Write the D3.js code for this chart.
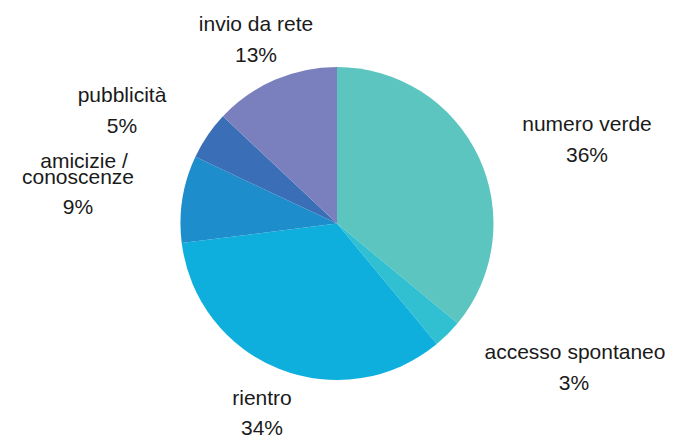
<!DOCTYPE html>
<html>
<head>
<meta charset="utf-8">
<script src="https://cdn.jsdelivr.net/npm/d3@7/dist/d3.min.js"></script>
<style>
  html, body { margin: 0; padding: 0; background: #ffffff; }
  svg { display: block; }
  text { font-family: "Liberation Sans", Arial, sans-serif; font-size: 21px; fill: #1a1a1a; }
</style>
</head>
<body>
<svg id="chart" width="678" height="438"></svg>
<script>
// Canali di accesso al servizio (percentuali)
const categories = ["numero verde", "accesso spontaneo", "rientro", "amicizie / conoscenze", "pubblicità", "invio da rete"];
const values = [36, 3, 34, 9, 5, 13];
const valueLabels = ["36%", "3%", "34%", "9%", "5%", "13%"];
const labelLines = [["numero verde"], ["accesso spontaneo"], ["rientro"], ["amicizie /", "conoscenze"], ["pubblicità"], ["invio da rete"]];

const colors = ["#5cc5bf", "#31bfd2", "#0eafdd", "#1e8dcb", "#3a6fb8", "#7a80be"];

// Layout
const W = 678, H = 438;
const cx = 337, cy = 223.5, radius = 156.5;
// label block placement: x centre per line and baselines
const labelLayout = [
  { x: [587], y: [131], vy: 162, vx: 587 },
  { x: [575], y: [359], vy: 390, vx: 574 },
  { x: [262], y: [405], vy: 435, vx: 262 },
  { x: [84, 78], y: [168, 184], vy: 214, vx: 78 },
  { x: [122], y: [102], vy: 133, vx: 122 },
  { x: [256], y: [31], vy: 62, vx: 256 }
];

const svg = d3.select("#chart");

const data = categories.map((c, i) => ({ name: c, value: values[i], i }));

const pie = d3.pie().value(d => d.value).sort(null);
const arc = d3.arc().innerRadius(0).outerRadius(radius);
const color = d3.scaleOrdinal().domain(categories).range(colors);

const g = svg.append("g").attr("transform", `translate(${cx},${cy})`);

g.selectAll("path")
  .data(pie(data))
  .join("path")
  .attr("d", arc)
  .attr("fill", d => color(d.data.name));

// Labels
const lg = svg.append("g");
data.forEach((d, i) => {
  const L = labelLayout[i];
  labelLines[i].forEach((line, j) => {
    lg.append("text")
      .attr("x", L.x[j])
      .attr("y", L.y[j])
      .attr("text-anchor", "middle")
      .text(line);
  });
  lg.append("text")
    .attr("x", L.vx)
    .attr("y", L.vy)
    .attr("text-anchor", "middle")
    .text(valueLabels[i]);
});
</script>
</body>
</html>
